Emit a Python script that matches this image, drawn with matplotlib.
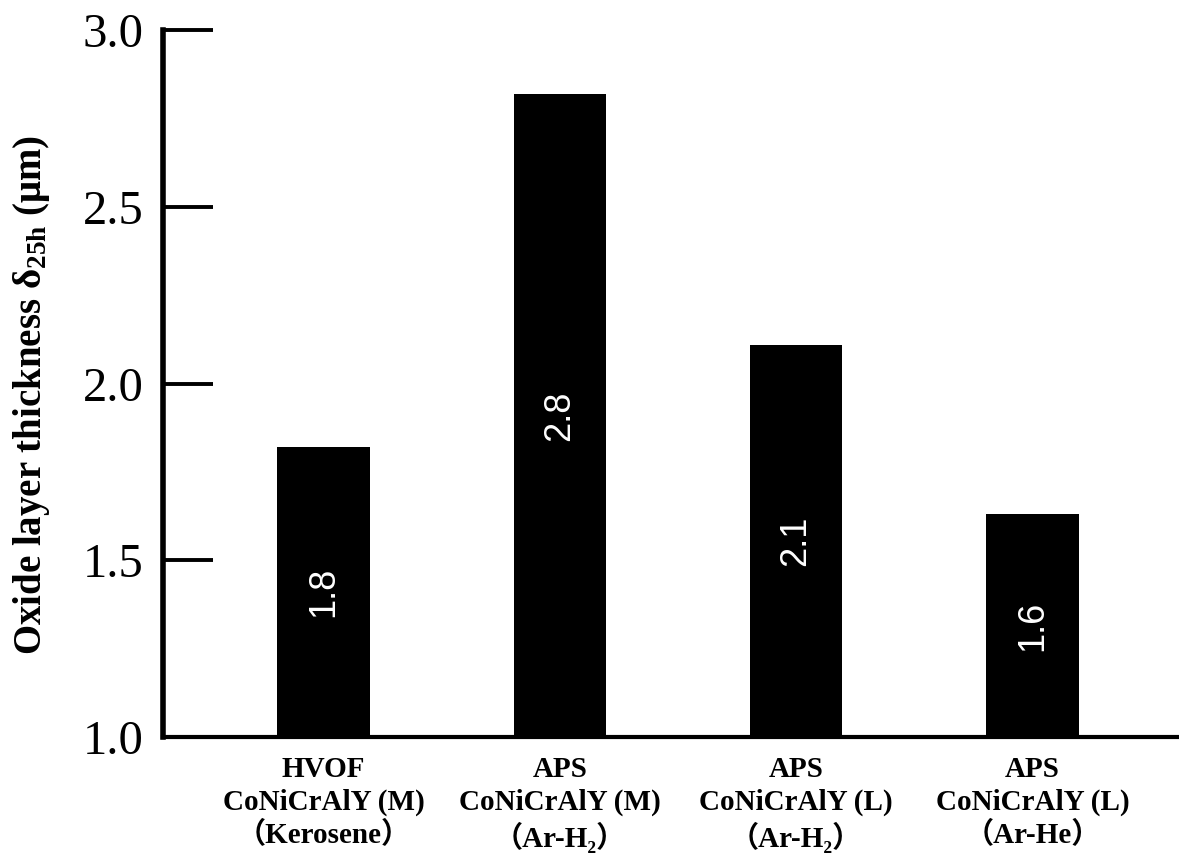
import numpy as np
from matplotlib import pyplot as plt

plt.rcParams['mathtext.fontset'] = 'custom'
plt.rcParams['mathtext.rm'] = 'Liberation Serif:bold'
plt.rcParams['mathtext.it'] = 'Liberation Serif:bold'
plt.rcParams['mathtext.bf'] = 'Liberation Serif:bold'
plt.rcParams['mathtext.default'] = 'rm'

categories = ["HVOF\nCoNiCrAlY (M)\n（Kerosene）",
              "APS\nCoNiCrAlY (M)\n（Ar-H₂）",
              "APS\nCoNiCrAlY (L)\n（Ar-H₂）",
              "APS\nCoNiCrAlY (L)\n（Ar-He）"]
thickness = [1.82, 2.82, 2.11, 1.63]
value_labels = ["1.8", "2.8", "2.1", "1.6"]
yticks = [1.0, 1.5, 2.0, 2.5, 3.0]

fig = plt.figure(figsize=(11.79, 8.61), dpi=100)
ax = fig.add_axes([0.138, 0.144, 0.862, 0.821])

x = np.arange(len(categories))
bars = ax.bar(x, np.array(thickness) - 1.0, bottom=1.0, width=0.39, color='black')

for b, lab in zip(bars, value_labels):
    ax.text(b.get_x() + b.get_width() / 2, b.get_y() + b.get_height() / 2, lab,
            rotation=90, ha='center', va='center', color='white',
            fontsize=26, family='Liberation Sans')

ax.set_xlim(-0.68, 3.62)
ax.set_ylim(1.0, 3.0)
ax.set_yticks(yticks)
ax.set_yticklabels(["%.1f" % v for v in yticks], family='Liberation Serif', fontsize=35)
ax.tick_params(axis='y', direction='in', length=36, width=2.8, pad=14)
ax.set_xticks(x)
ax.set_xticklabels(categories, family=['Liberation Serif', 'Noto Sans CJK SC'],
                   fontweight='bold', fontsize=21, linespacing=1.25)
ax.tick_params(axis='x', length=0, pad=14)

ax.spines['top'].set_visible(False)
ax.spines['right'].set_visible(False)
ax.spines['left'].set_linewidth(4.0)
ax.spines['bottom'].set_linewidth(3.0)

ax.set_ylabel(r"Oxide layer thickness δ$_{25h}$ (μm)", family='Liberation Serif',
              fontweight='bold', fontsize=28)
ax.yaxis.set_label_coords(-0.109, 0.484)

fig.savefig("out.png", dpi=100)
